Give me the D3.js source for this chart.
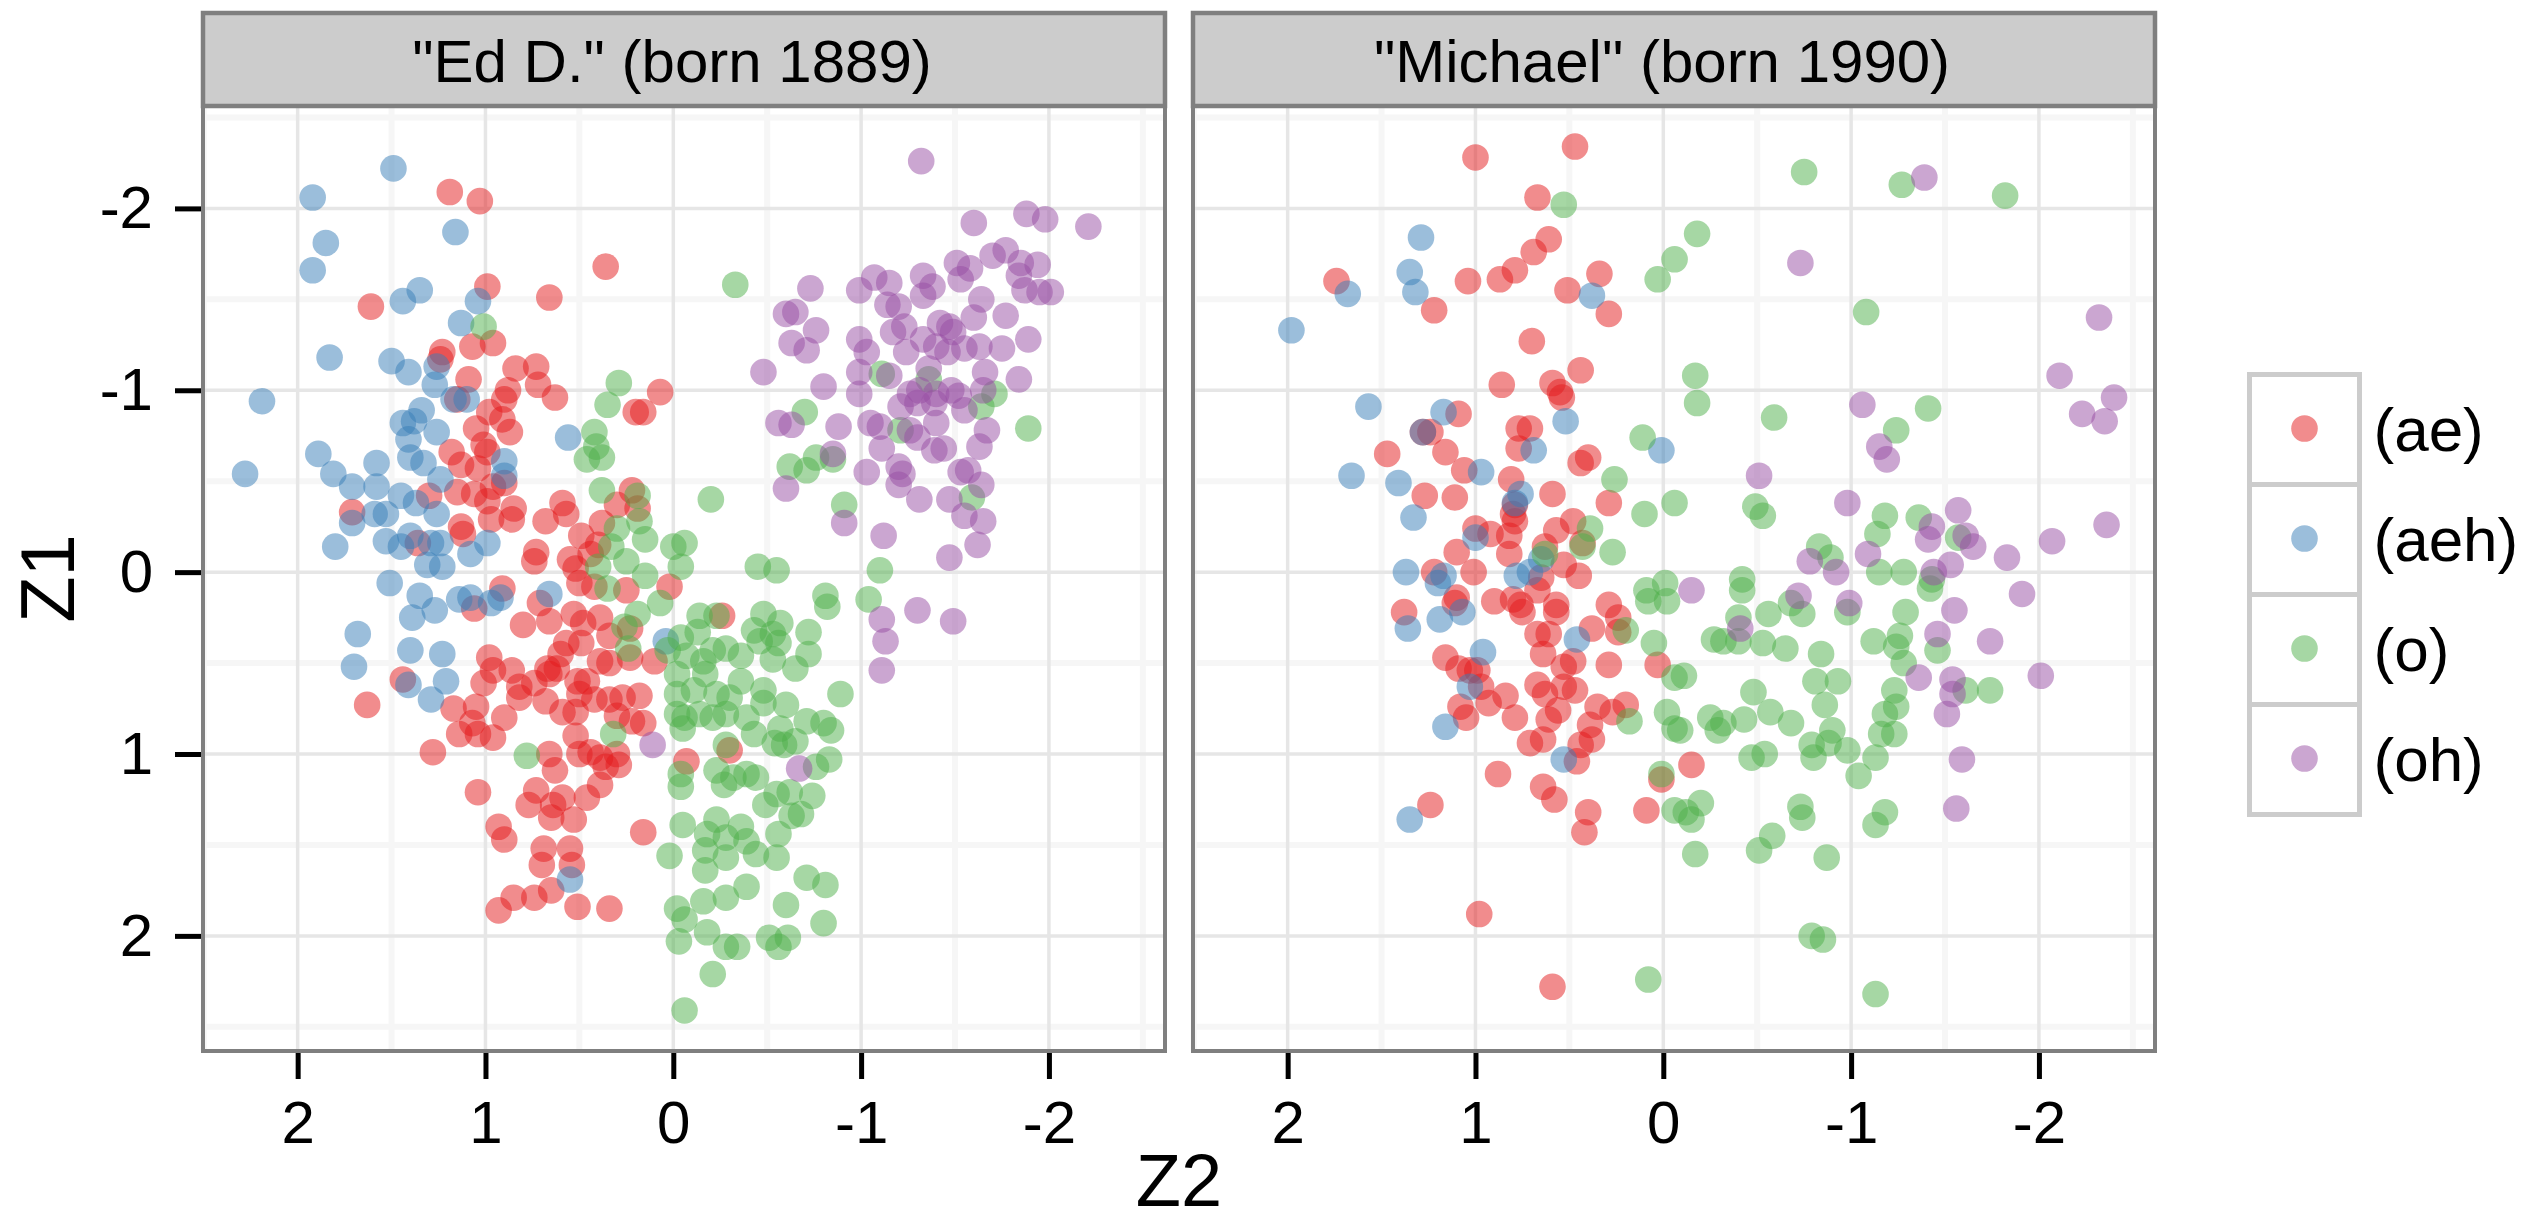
<!DOCTYPE html>
<html>
<head>
<meta charset="utf-8">
<script src="https://cdn.jsdelivr.net/npm/d3@7"></script>
<style>
  body { margin: 0; background: #fff; }
  text { font-family: "Liberation Sans", Arial, Helvetica, sans-serif; fill: #000; }
</style>
</head>
<body>
<script>
// chart data: [Z2, Z1] pairs per speaker and vowel class
// ==========================================================================
var categories = ["(ae)", "(aeh)", "(o)", "(oh)"];
var panelTitles = ['"Ed D." (born 1889)', '"Michael" (born 1990)'];
var xTicks = [2, 1, 0, -1, -2];
var yTicks = [-2, -1, 0, 1, 2];

var edAe = [[1.19,-2.09],[1.03,-2.04],[0.36,-1.68],[0.99,-1.57],[0.66,-1.51],[1.61,-1.46],[1.07,-1.24],[0.96,-1.26],[1.23,-1.21],[1.24,-1.17],[1.09,-1.06],[0.84,-1.12],[0.73,-1.13],[0.72,-1.03],[0.63,-0.96],[0.88,-1.00],[0.90,-0.95],[1.15,-0.95],[0.20,-0.88],[0.16,-0.88],[0.07,-0.99],[0.98,-0.88],[0.91,-0.84],[1.05,-0.79],[0.87,-0.77],[1.01,-0.70],[0.99,-0.66],[1.18,-0.66],[1.13,-0.59],[1.04,-0.57],[0.90,-0.49],[1.71,-0.33],[1.30,-0.42],[1.15,-0.44],[1.06,-0.43],[0.99,-0.39],[0.96,-0.47],[0.85,-0.35],[0.97,-0.29],[0.86,-0.29],[0.68,-0.28],[0.59,-0.38],[0.57,-0.32],[1.13,-0.25],[1.12,-0.21],[1.36,-0.16],[0.73,-0.11],[0.74,-0.06],[0.49,-0.20],[0.38,-0.27],[0.30,-0.37],[0.22,-0.45],[0.19,-0.35],[0.55,-0.07],[0.52,-0.02],[0.40,-0.15],[0.44,-0.10],
  [0.50,0.06],[0.42,0.08],[0.25,0.10],[0.02,0.08],[0.91,0.09],[1.06,0.20],[0.71,0.17],[0.80,0.29],[0.66,0.27],[0.53,0.23],[0.39,0.25],[0.48,0.28],[0.34,0.35],[0.23,0.31],[0.57,0.39],[0.49,0.39],[0.60,0.45],[0.39,0.49],[0.34,0.50],[0.23,0.47],[0.10,0.49],[0.98,0.47],[0.96,0.54],[0.86,0.54],[0.74,0.61],[0.82,0.63],[0.62,0.53],[0.66,0.56],[0.67,0.53],[1.01,0.61],[0.82,0.69],[0.68,0.71],[0.51,0.60],[0.46,0.60],[0.50,0.67],[0.42,0.70],[0.34,0.70],[0.27,0.69],[0.18,0.68],[0.59,0.77],[0.52,0.77],[0.30,0.79],[0.16,0.83],[0.22,0.82],[1.44,0.59],[1.63,0.73],[1.17,0.75],[1.05,0.74],[1.07,0.83],[1.14,0.89],[1.04,0.89],[0.96,0.91],[0.90,0.80],[0.52,0.90],[1.28,0.99],[0.66,1.00],[0.63,1.09],[0.50,1.00],[0.44,0.99],[0.39,1.02],[0.30,1.00],[0.29,1.06],[0.36,1.07],[0.39,1.17],[0.73,1.20],[0.77,1.28],[0.59,1.24],[0.64,1.28],[0.65,1.35],[0.53,1.36],[0.46,1.24],[1.04,1.21],[0.93,1.40],[0.90,1.47],[0.69,1.52],[0.55,1.52],[0.70,1.61],[0.54,1.61],[0.16,1.43],[0.65,1.75],[0.74,1.79],[0.85,1.79],[0.93,1.86],[0.51,1.84],[0.34,1.85],
  [-0.26,0.24],[-0.30,0.98],[-0.07,1.04]];

var edAeh = [[1.49,-2.22],[1.92,-2.06],[1.16,-1.87],[1.85,-1.81],[1.92,-1.66],[1.35,-1.55],[1.44,-1.49],[1.04,-1.49],[1.13,-1.37],[1.83,-1.18],[1.50,-1.16],[1.41,-1.10],[1.26,-1.13],[1.27,-1.03],[1.17,-0.95],[1.10,-0.95],[2.19,-0.94],[1.34,-0.89],[1.44,-0.82],[1.38,-0.83],[1.26,-0.77],[1.41,-0.73],[0.56,-0.74],[1.40,-0.63],[1.33,-0.60],[1.89,-0.65],[1.58,-0.60],[2.28,-0.54],[1.81,-0.54],[1.71,-0.47],[1.58,-0.47],[0.90,-0.61],[0.90,-0.53],[1.24,-0.51],[1.45,-0.42],[1.37,-0.38],[1.26,-0.32],[1.59,-0.32],[1.53,-0.32],[1.71,-0.27],[1.80,-0.14],[1.53,-0.17],[1.45,-0.14],[1.40,-0.20],[1.29,-0.16],[1.24,-0.16],[0.99,-0.16],[1.08,-0.10],[1.31,-0.04],[1.23,-0.03],
  [1.51,0.06],[1.35,0.13],[1.27,0.21],[1.14,0.15],[1.08,0.14],[0.92,0.14],[0.97,0.17],[1.39,0.25],[0.66,0.12],[1.68,0.34],[1.40,0.43],[1.23,0.45],[1.70,0.52],[1.41,0.62],[1.21,0.60],[1.29,0.70],[0.04,0.38],[0.55,1.69]];

var edO = [[1.01,-1.35],[0.29,-1.04],[0.35,-0.92],[0.42,-0.77],[0.41,-0.69],[0.46,-0.62],[0.38,-0.63],[0.38,-0.45],[0.19,-0.42],[0.18,-0.28],[0.30,-0.24],[0.15,-0.18],[0.00,-0.14],[-0.06,-0.16],[0.33,-0.14],[0.25,-0.06],[0.40,-0.03],[-0.04,-0.03],[0.15,0.02],
  [-0.33,-1.58],[-1.11,-1.09],[-1.36,-1.06],[-1.71,-0.98],[-1.64,-0.91],[-1.89,-0.79],[-0.70,-0.88],[-1.21,-0.78],[-0.76,-0.63],[-0.62,-0.58],[-0.71,-0.56],[-0.85,-0.62],[-0.20,-0.40],[-0.91,-0.37],[-1.59,-0.41],[-0.45,-0.03],[-0.55,-0.01],[-1.10,-0.01],
  [0.35,0.09],[0.19,0.23],[0.07,0.17],[0.26,0.30],[0.24,0.42],[0.03,0.43],[-0.04,0.36],[-0.07,0.46],[-0.02,0.56],[-0.02,0.67],[-0.02,0.78],[-0.06,0.80],[-0.05,0.86],[0.32,0.89],[0.78,1.01],[-0.04,1.11],[-0.04,1.18],[-0.05,1.39],[0.02,1.56],[-0.02,1.85],[-0.06,1.91],[-0.03,2.03],[-0.06,2.41],
  [-0.81,0.13],[-0.82,0.19],[-1.04,0.15],[-0.14,0.24],[-0.23,0.24],[-0.48,0.23],[-0.57,0.28],[-0.13,0.33],[-0.43,0.32],[-0.53,0.34],[-0.72,0.33],[-0.28,0.42],[-0.36,0.46],[-0.46,0.38],[-0.56,0.39],[-0.72,0.45],[-0.53,0.48],[-0.65,0.53],[-0.16,0.49],[-0.21,0.43],[-0.17,0.56],[-0.36,0.60],[-0.48,0.65],[-0.23,0.67],[-0.30,0.69],[-0.11,0.65],[-0.89,0.67],[-0.39,0.80],[-0.48,0.72],[-0.60,0.73],[-0.14,0.78],[-0.21,0.80],[-0.28,0.78],[-0.71,0.82],[-0.80,0.83],[-0.84,0.87],[-0.57,0.86],[-0.43,0.89],[-0.54,0.94],[-0.59,0.95],[-0.28,0.95],[-0.76,1.07],[-0.83,1.03],[-0.65,0.93],[-0.23,1.09],[-0.32,1.13],[-0.39,1.11],[-0.44,1.13],[-0.27,1.17],[-0.49,1.28],[-0.55,1.22],[-0.62,1.21],[-0.74,1.23],[-0.63,1.34],[-0.68,1.33],[-0.23,1.36],[-0.36,1.40],[-0.18,1.44],[-0.28,1.46],[-0.39,1.48],[-0.56,1.44],[-0.17,1.53],[-0.28,1.57],[-0.44,1.55],[-0.55,1.57],[-0.17,1.64],[-0.71,1.68],[-0.81,1.72],[-0.39,1.73],[-0.28,1.79],[-0.16,1.81],[-0.60,1.83],[-0.80,1.93],[-0.18,1.98],[-0.51,2.01],[-0.61,2.01],[-0.28,2.06],[-0.34,2.06],[-0.56,2.06],[-0.21,2.21]];

var edOh = [[-1.32,-2.26],[-1.60,-1.92],[-1.88,-1.97],[-1.98,-1.94],[-2.21,-1.90],[-1.51,-1.70],[-1.58,-1.67],[-1.70,-1.74],[-1.77,-1.77],[-1.85,-1.70],[-1.94,-1.69],[-1.84,-1.63],[-1.87,-1.55],[-1.95,-1.54],[-2.01,-1.54],[-1.53,-1.61],[-0.73,-1.56],[-1.07,-1.62],[-1.15,-1.59],[-0.99,-1.55],[-1.33,-1.63],[-1.38,-1.57],[-1.33,-1.52],[-1.14,-1.47],[-1.20,-1.46],[-1.64,-1.50],[-1.60,-1.40],[-1.77,-1.41],[-0.60,-1.42],[-0.65,-1.43],[-0.76,-1.33],[-0.63,-1.26],[-0.71,-1.22],[-0.99,-1.28],[-1.17,-1.32],[-1.23,-1.35],[-1.42,-1.37],[-1.47,-1.35],[-1.49,-1.32],[-1.33,-1.28],[-1.03,-1.21],[-1.24,-1.21],[-1.40,-1.24],[-1.46,-1.21],[-1.55,-1.23],[-1.63,-1.24],[-1.75,-1.23],[-1.89,-1.28],[-0.48,-1.10],[-0.80,-1.02],[-0.99,-1.10],[-0.99,-0.98],[-1.15,-1.08],[-1.36,-1.12],[-1.66,-1.10],[-1.84,-1.06],[-1.26,-0.98],[-1.31,-1.00],[-1.40,-0.98],[-1.48,-1.00],[-1.52,-0.97],[-1.65,-1.00],[-1.21,-0.91],[-1.30,-0.93],[-1.39,-0.93],[-1.55,-0.89],[-0.56,-0.82],[-0.63,-0.81],[-0.88,-0.80],[-1.05,-0.82],[-1.10,-0.80],[-1.26,-0.78],[-1.40,-0.82],[-1.67,-0.78],[-1.11,-0.68],[-1.30,-0.74],[-1.39,-0.67],[-1.44,-0.68],[-1.63,-0.69],[-0.85,-0.65],[-1.03,-0.55],[-1.20,-0.58],[-1.22,-0.54],[-1.20,-0.48],[-1.53,-0.55],[-1.57,-0.56],[-1.64,-0.48],[-0.60,-0.46],[-1.31,-0.40],[-1.47,-0.40],[-1.55,-0.31],[-1.65,-0.28],[-0.91,-0.27],[-1.12,-0.20],[-1.62,-0.15],[-1.47,-0.08],
  [-1.11,0.26],[-1.30,0.21],[-1.49,0.27],[-1.13,0.38],[-1.11,0.54],[-0.67,1.08],[0.11,0.95]];

var miAe = [[1.00,-2.28],[0.47,-2.34],[0.67,-2.06],[0.61,-1.83],[0.69,-1.76],[0.79,-1.66],[0.87,-1.61],[1.04,-1.60],[0.34,-1.64],[0.51,-1.55],[0.29,-1.42],[1.74,-1.60],[1.22,-1.44],[0.70,-1.27],[0.44,-1.11],[0.86,-1.03],[0.59,-1.04],[0.55,-0.99],[0.54,-0.96],[1.09,-0.87],[1.28,-0.77],[1.24,-0.77],[1.47,-0.65],[1.16,-0.66],[0.77,-0.79],[0.71,-0.79],[0.77,-0.68],[0.44,-0.60],[0.40,-0.63],[1.06,-0.56],[0.81,-0.51],[1.27,-0.42],[1.11,-0.41],[0.59,-0.43],[0.29,-0.38],[0.79,-0.37],[0.79,-0.28],[0.80,-0.32],[0.48,-0.28],[0.57,-0.23],[1.00,-0.24],[0.92,-0.21],[0.82,-0.20],[1.10,-0.11],[0.82,-0.10],[0.63,-0.14],[0.53,-0.04],[0.43,-0.16],[1.22,0.00],[1.01,0.00],[0.45,0.02],
  [1.38,0.22],[1.10,0.14],[1.11,0.17],[0.90,0.16],[0.80,0.15],[0.76,0.18],[0.75,0.22],[0.67,0.10],[0.65,0.03],[0.57,0.18],[0.57,0.22],[0.29,0.18],[0.24,0.25],[0.24,0.33],[0.38,0.31],[0.67,0.34],[0.61,0.34],[0.64,0.45],[0.53,0.52],[0.48,0.49],[0.29,0.51],[0.03,0.51],[1.16,0.47],[1.09,0.53],[1.03,0.54],[0.99,0.54],[0.97,0.63],[0.84,0.68],[0.93,0.72],[1.08,0.74],[1.05,0.80],[0.79,0.80],[0.67,0.62],[0.63,0.67],[0.53,0.63],[0.47,0.65],[0.56,0.76],[0.61,0.81],[0.35,0.74],[0.27,0.77],[0.20,0.73],[0.39,0.84],[0.38,0.92],[0.44,0.95],[0.71,0.94],[0.64,0.92],[0.46,1.04],[0.88,1.11],[0.64,1.18],[0.58,1.25],[0.40,1.32],[0.42,1.43],[0.09,1.31],[0.01,1.14],[1.24,1.28],[0.98,1.88],[0.59,2.28],[-0.15,1.06]];

var miAeh = [[1.29,-1.84],[1.35,-1.65],[1.32,-1.54],[1.68,-1.53],[1.98,-1.33],[0.38,-1.52],[1.57,-0.91],[1.17,-0.88],[1.28,-0.77],[0.52,-0.83],[0.69,-0.67],[0.01,-0.67],[1.66,-0.53],[1.41,-0.49],[0.97,-0.55],[0.76,-0.43],[0.79,-0.38],[1.33,-0.30],[1.00,-0.19],[1.37,0.00],[0.71,0.00],[1.17,0.02],[0.78,0.02],[0.65,-0.07],
  [1.20,0.06],[1.36,0.31],[1.19,0.26],[1.07,0.22],[0.96,0.44],[1.03,0.63],[1.16,0.85],[0.46,0.37],[0.53,1.03],[1.35,1.36]];

var miO = [[0.53,-2.02],[0.03,-1.61],[-0.06,-1.72],[0.11,-0.74],[0.26,-0.51],[0.10,-0.32],[-0.06,-0.38],[0.39,-0.24],[0.43,-0.14],[0.27,-0.11],[0.63,-0.10],
  [-0.75,-2.20],[-1.27,-2.13],[-1.82,-2.07],[-0.18,-1.86],[-1.08,-1.43],[-0.17,-1.08],[-0.18,-0.93],[-0.59,-0.85],[-1.41,-0.90],[-1.24,-0.78],[-0.49,-0.36],[-0.53,-0.31],[-1.18,-0.31],[-1.36,-0.30],[-1.14,-0.21],[-0.83,-0.14],[-0.89,-0.08],[-1.57,-0.19],[-1.15,0.00],[-1.28,0.00],[-0.42,0.04],[-1.43,0.04],
  [0.09,0.10],[0.08,0.16],[-0.02,0.16],[-0.01,0.06],[0.20,0.32],[0.05,0.39],[0.18,0.82],[-0.02,0.77],[-0.06,0.86],[0.01,1.11],[-0.06,1.31],[0.08,2.24],[-0.06,0.58],
  [-0.42,0.10],[-0.56,0.23],[-0.68,0.17],[-0.74,0.23],[-0.40,0.25],[-0.27,0.37],[-0.32,0.38],[-0.40,0.38],[-0.53,0.39],[-0.65,0.42],[-0.84,0.45],[-0.11,0.57],[-0.48,0.66],[-0.81,0.60],[-0.93,0.60],[-0.86,0.73],[-0.09,0.87],[-0.25,0.80],[-0.32,0.83],[-0.29,0.87],[-0.43,0.81],[-0.57,0.77],[-0.68,0.83],[-0.47,1.02],[-0.54,1.00],[-0.79,0.95],[-0.80,1.02],[-0.90,0.87],[-0.88,0.94],[-0.98,0.98],[-1.13,1.02],[-1.04,1.12],[-0.98,0.22],[-1.29,0.22],[-1.12,0.38],[-1.26,0.35],[-1.24,0.41],[-1.28,0.50],[-1.23,0.65],[-1.18,0.78],[-1.24,0.74],[-1.16,0.89],[-1.23,0.89],[-1.42,0.09],[-1.46,0.43],[-1.61,0.65],[-1.74,0.65],[-0.20,1.27],[-0.12,1.32],[-0.15,1.36],[-0.73,1.29],[-0.74,1.35],[-0.58,1.45],[-0.51,1.53],[-0.17,1.55],[-0.87,1.57],[-1.18,1.32],[-1.13,1.39],[-0.79,2.00],[-0.85,2.02],[-1.13,2.32]];

var miOh = [[-1.39,-2.17],[-0.73,-1.70],[-2.32,-1.40],[-2.11,-1.08],[-2.40,-0.96],[-2.23,-0.87],[-2.35,-0.83],[-1.06,-0.92],[-1.15,-0.69],[-1.19,-0.62],[-0.51,-0.53],[-0.98,-0.38],[-1.57,-0.34],[-1.43,-0.25],[-1.41,-0.18],[-1.61,-0.20],[-1.65,-0.14],[-1.83,-0.08],[-2.07,-0.17],[-2.36,-0.26],[-1.09,-0.10],[-0.78,-0.06],[-0.92,0.00],[-1.53,-0.04],[-1.44,0.00],
  [-0.15,0.10],[-0.72,0.13],[-0.41,0.31],[-0.99,0.17],[-1.91,0.12],[-1.55,0.21],[-1.46,0.34],[-1.74,0.38],[-2.01,0.57],[-1.36,0.58],[-1.54,0.59],[-1.54,0.67],[-1.51,0.78],[-1.59,1.03],[-1.56,1.30]];

// set up chart configurations
// ==========================================================================
var svgWidth = 2531;
var svgHeight = 1223;
var colors = ["#E41A1C", "#377EB8", "#4DAF4A", "#984EA3"];
var pointRadius = 13.3;
var pointAlpha = 0.5;

var panelTop = 106;
var panelBottom = 1051;
var panelWidth = 962;
var panelLefts = [203, 1193];
var stripTop = 13;

var panels = [
  { title: panelTitles[0], series: [edAe, edAeh, edO, edOh] },
  { title: panelTitles[1], series: [miAe, miAeh, miO, miOh] }
];

var svg = d3.select("body")
  .append("svg")
  .attr("width", svgWidth)
  .attr("height", svgHeight);

// same y scale for both facets (reversed: -2 at top)
var yScale = d3.scaleLinear()
  .domain([-2.563, 2.633])
  .range([panelTop, panelBottom]);

var minorVals = [-2.5, -1.5, -0.5, 0.5, 1.5, 2.5];

panels.forEach(function(p, i) {
  var left = panelLefts[i];

  // reversed x scale: 2 on the left
  var xScale = d3.scaleLinear()
    .domain([2.504, -2.618])
    .range([left, left + panelWidth]);

  var g = svg.append("g");

  g.append("rect")
    .attr("x", left).attr("y", panelTop)
    .attr("width", panelWidth).attr("height", panelBottom - panelTop)
    .attr("fill", "#fff");

  // minor grid
  g.selectAll(null).data(minorVals.filter(v => v < 2.504 && v > -2.618)).enter()
    .append("line")
    .attr("x1", d => xScale(d)).attr("x2", d => xScale(d))
    .attr("y1", panelTop).attr("y2", panelBottom)
    .attr("stroke", "#f6f6f6").attr("stroke-width", 6);
  g.selectAll(null).data(minorVals).enter()
    .append("line")
    .attr("y1", d => yScale(d)).attr("y2", d => yScale(d))
    .attr("x1", left).attr("x2", left + panelWidth)
    .attr("stroke", "#f6f6f6").attr("stroke-width", 6);

  // major grid
  g.selectAll(null).data(xTicks).enter()
    .append("line")
    .attr("x1", d => xScale(d)).attr("x2", d => xScale(d))
    .attr("y1", panelTop).attr("y2", panelBottom)
    .attr("stroke", "#e6e6e6").attr("stroke-width", 3.5);
  g.selectAll(null).data(yTicks).enter()
    .append("line")
    .attr("y1", d => yScale(d)).attr("y2", d => yScale(d))
    .attr("x1", left).attr("x2", left + panelWidth)
    .attr("stroke", "#e6e6e6").attr("stroke-width", 3.5);

  // points
  p.series.forEach(function(pts, k) {
    g.selectAll(null).data(pts).enter()
      .append("circle")
      .attr("cx", d => xScale(d[0]))
      .attr("cy", d => yScale(d[1]))
      .attr("r", pointRadius)
      .attr("fill", colors[k])
      .attr("fill-opacity", pointAlpha);
  });

  // panel border
  g.append("rect")
    .attr("x", left).attr("y", panelTop)
    .attr("width", panelWidth).attr("height", panelBottom - panelTop)
    .attr("fill", "none")
    .attr("stroke", "#7f7f7f").attr("stroke-width", 4);

  // strip
  g.append("rect")
    .attr("x", left).attr("y", stripTop)
    .attr("width", panelWidth).attr("height", panelTop - stripTop)
    .attr("fill", "#cccccc")
    .attr("stroke", "#7f7f7f").attr("stroke-width", 4.5);
  g.append("text")
    .attr("x", left + panelWidth / 2 - 12)
    .attr("y", 82)
    .attr("text-anchor", "middle")
    .attr("font-size", 60)
    .text(p.title);

  // x axis
  var xAxis = g.append("g")
    .attr("transform", `translate(0, ${panelBottom + 2})`)
    .call(d3.axisBottom(xScale).tickValues(xTicks).tickSize(26).tickPadding(21)
      .tickFormat(d => String(d)));
  xAxis.select(".domain").remove();
  xAxis.selectAll("line").attr("stroke", "#000").attr("stroke-width", 5);
  xAxis.selectAll("text").attr("font-size", 60).attr("font-family", null).attr("fill", "#000");

  // y axis, only on the first facet
  if (i === 0) {
    var yAxis = g.append("g")
      .attr("transform", `translate(${left - 2}, 0)`)
      .call(d3.axisLeft(yScale).tickValues(yTicks).tickSize(26).tickPadding(22)
        .tickFormat(d => String(d)));
    yAxis.select(".domain").remove();
    yAxis.selectAll("line").attr("stroke", "#000").attr("stroke-width", 5);
    yAxis.selectAll("text").attr("font-size", 60).attr("font-family", null).attr("fill", "#000");
  }
});

// axis titles
svg.append("text")
  .attr("x", (panelLefts[0] + panelLefts[1] + panelWidth) / 2)
  .attr("y", 1206)
  .attr("text-anchor", "middle")
  .attr("font-size", 74)
  .text("Z2");

svg.append("text")
  .attr("transform", `translate(74, ${(panelTop + panelBottom) / 2}) rotate(-90)`)
  .attr("text-anchor", "middle")
  .attr("font-size", 76)
  .text("Z1");

// legend
var legendX = 2249.5;
var legendY = 374.5;
var keySize = 110;
var legend = svg.append("g");

categories.forEach(function(c, k) {
  var y0 = legendY + k * keySize;
  legend.append("rect")
    .attr("x", legendX).attr("y", y0)
    .attr("width", keySize).attr("height", keySize)
    .attr("fill", "#fff")
    .attr("stroke", "#cccccc").attr("stroke-width", 5);
  legend.append("circle")
    .attr("cx", legendX + keySize / 2)
    .attr("cy", y0 + keySize / 2 - 1)
    .attr("r", pointRadius)
    .attr("fill", colors[k])
    .attr("fill-opacity", pointAlpha);
  legend.append("text")
    .attr("x", legendX + keySize + 14)
    .attr("y", y0 + keySize / 2 + 21)
    .attr("font-size", 62)
    .text(c);
});
</script>
</body>
</html>
